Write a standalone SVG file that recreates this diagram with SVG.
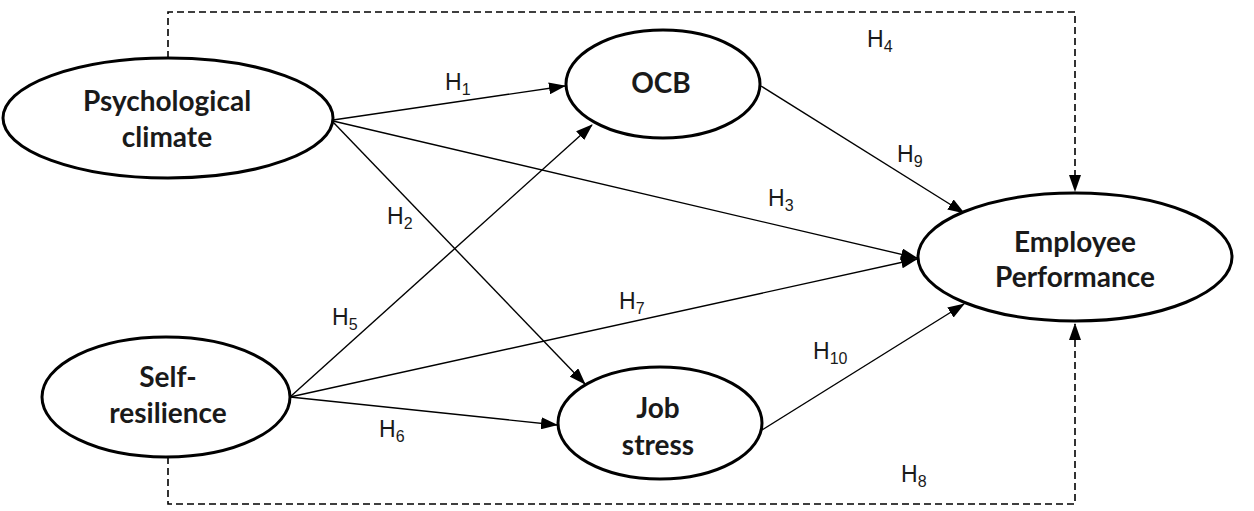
<svg xmlns="http://www.w3.org/2000/svg" width="1254" height="511" viewBox="0 0 1254 511">
<style>
.node{fill:#fff;stroke:#000;stroke-width:3}
.nt{font-family:Lato,"Liberation Sans",sans-serif;font-weight:bold;font-size:28px;text-anchor:middle;fill:#1a1a1a}
.c{stroke:#000;stroke-width:1.4;fill:none}
.d{stroke:#000;stroke-width:1.6;fill:none;stroke-dasharray:7,4}
.h{font-family:"Liberation Sans",Arial,sans-serif;font-size:23px;fill:#1a1a1a}
.s{font-size:16px}
</style>
<defs>
<marker id="ar" markerWidth="17" markerHeight="12" refX="16" refY="6" orient="auto" markerUnits="userSpaceOnUse">
<path d="M0,0 L17,6 L0,12 z" fill="#000"/>
</marker>
</defs>
<g id="connectors">
<path class="d" d="M168,58 V12 H1075 V191" marker-end="url(#ar)"/>
<path class="d" d="M168,457 V504 H1075 V324" marker-end="url(#ar)"/>
<line class="c" x1="333" y1="120" x2="565" y2="86" marker-end="url(#ar)"/>
<line class="c" x1="333" y1="121" x2="917" y2="258" marker-end="url(#ar)"/>
<line class="c" x1="333" y1="122" x2="585" y2="384" marker-end="url(#ar)"/>
<line class="c" x1="290" y1="397" x2="592" y2="125" marker-end="url(#ar)"/>
<line class="c" x1="290" y1="397" x2="917" y2="259" marker-end="url(#ar)"/>
<line class="c" x1="290" y1="397" x2="557" y2="425" marker-end="url(#ar)"/>
<line class="c" x1="761" y1="86" x2="964" y2="213" marker-end="url(#ar)"/>
<line class="c" x1="762" y1="430" x2="964" y2="304" marker-end="url(#ar)"/>
</g>
<g id="labels">
<text class="h" x="445" y="90">H<tspan class="s" dy="5">1</tspan></text>
<text class="h" x="387" y="224">H<tspan class="s" dy="5">2</tspan></text>
<text class="h" x="768" y="206">H<tspan class="s" dy="5">3</tspan></text>
<text class="h" x="867" y="47">H<tspan class="s" dy="5">4</tspan></text>
<text class="h" x="332" y="325">H<tspan class="s" dy="5">5</tspan></text>
<text class="h" x="379" y="437">H<tspan class="s" dy="5">6</tspan></text>
<text class="h" x="619" y="309">H<tspan class="s" dy="5">7</tspan></text>
<text class="h" x="901" y="482">H<tspan class="s" dy="5">8</tspan></text>
<text class="h" x="897" y="162">H<tspan class="s" dy="5">9</tspan></text>
<text class="h" x="813" y="359">H<tspan class="s" dy="5">10</tspan></text>
</g>
<g id="psychological-climate">
<ellipse class="node" cx="168" cy="118" rx="165" ry="60"/>
<text class="nt" x="167" y="111">Psychological</text>
<text class="nt" x="167" y="147">climate</text>
</g>
<g id="ocb">
<ellipse class="node" cx="663" cy="84" rx="97" ry="54"/>
<text class="nt" x="661" y="93">OCB</text>
</g>
<g id="employee-performance">
<ellipse class="node" cx="1075" cy="257" rx="157" ry="64"/>
<text class="nt" x="1075" y="252">Employee</text>
<text class="nt" x="1075" y="287">Performance</text>
</g>
<g id="self-resilience">
<ellipse class="node" cx="166" cy="397" rx="124" ry="60"/>
<text class="nt" x="168" y="387">Self-</text>
<text class="nt" x="168" y="423">resilience</text>
</g>
<g id="job-stress">
<ellipse class="node" cx="660" cy="423" rx="102" ry="56"/>
<text class="nt" x="658" y="418">Job</text>
<text class="nt" x="658" y="455">stress</text>
</g>
</svg>
